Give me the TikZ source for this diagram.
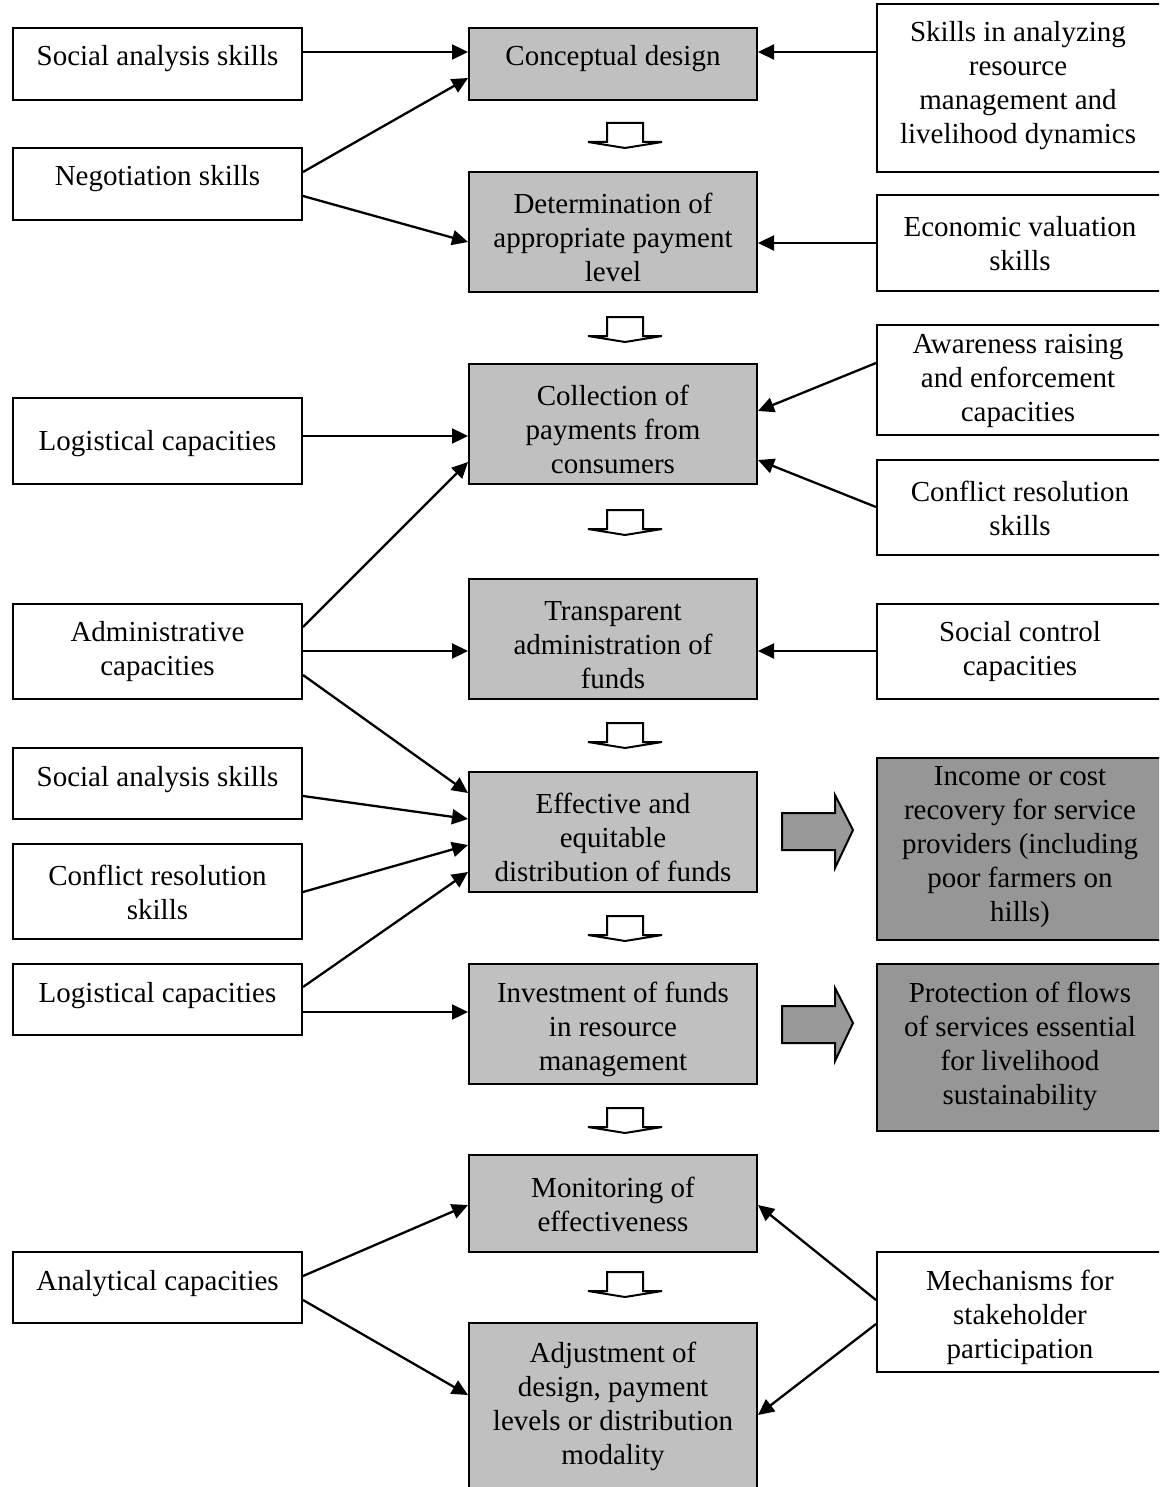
\documentclass[tikz,border=0pt]{standalone}
\usepackage{fontspec}
\setmainfont{Liberation Serif}
\usetikzlibrary{arrows.meta}
\definecolor{midgray}{RGB}{192,192,192}
\definecolor{darkbox}{RGB}{150,150,150}
\definecolor{arrgray}{RGB}{153,153,153}
\begin{document}
\begin{tikzpicture}[x=1pt,y=-1pt,
  box/.style={draw, line width=2pt, inner sep=0pt, anchor=center},
  lbox/.style={box, minimum width=289pt},
  mbox/.style={box, fill=midgray, minimum width=288pt},
  rbox/.style={box, minimum width=285pt},
  dbox/.style={box, fill=darkbox, minimum width=285pt},
  txt/.style={align=center, inner sep=0pt, yshift=-3pt, font=\fontsize{29}{34}\selectfont},
  conn/.style={line width=2.3pt, -{Triangle[length=16pt,width=15pt]}},
  downarr/.style={draw, fill=white, line width=2pt, line join=miter},
  bigarr/.style={draw, fill=arrgray, line width=2pt, line join=miter}]
\useasboundingbox (0,0) rectangle (1159,1487);
\clip (0,0) rectangle (1159,1487);

% ---------- left column ----------
\node[lbox, minimum height=72pt] (L1) at (157.5,64) {};
\node[txt] (L1t) at (157.5,56) {Social analysis skills};
\node[lbox, minimum height=72pt] (L2) at (157.5,184) {};
\node[txt] (L2t) at (157.5,176) {Negotiation skills};
\node[lbox, minimum height=86pt] (L3) at (157.5,441) {};
\node[txt] (L3t) at (157.5,441) {Logistical capacities};
\node[lbox, minimum height=95pt] (L4) at (157.5,651.5) {};
\node[txt] (L4t) at (157.5,649) {Administrative\\capacities};
\node[lbox, minimum height=71pt] (L5) at (157.5,783.5) {};
\node[txt] (L5t) at (157.5,777) {Social analysis skills};
\node[lbox, minimum height=95pt] (L6) at (157.5,891.5) {};
\node[txt] (L6t) at (157.5,889) {Conflict resolution\\skills};
\node[lbox, minimum height=71pt] (L7) at (157.5,999.5) {};
\node[txt] (L7t) at (157.5,993) {Logistical capacities};
\node[lbox, minimum height=71pt] (L8) at (157.5,1287.5) {};
\node[txt] (L8t) at (157.5,1281) {Analytical capacities};

% ---------- middle column ----------
\node[mbox, minimum height=72pt] (M1) at (613,64) {};
\node[txt] (M1t) at (613,56) {Conceptual design};
\node[mbox, minimum height=120pt] (M2) at (613,232) {};
\node[txt] (M2t) at (613,234) {Determination of\\appropriate payment\\level};
\node[mbox, minimum height=120pt] (M3) at (613,424) {};
\node[txt] (M3t) at (613,426) {Collection of\\payments from\\consumers};
\node[mbox, minimum height=120pt] (M4) at (613,639) {};
\node[txt] (M4t) at (613,642) {Transparent\\administration of\\funds};
\node[mbox, minimum height=120pt] (M5) at (613,832) {};
\node[txt] (M5t) at (613,834) {Effective and\\equitable\\distribution of funds};
\node[mbox, minimum height=120pt] (M6) at (613,1024) {};
\node[txt] (M6t) at (613,1026) {Investment of funds\\in resource\\management};
\node[mbox, minimum height=97pt] (M7) at (613,1203.5) {};
\node[txt] (M7t) at (613,1201) {Monitoring of\\effectiveness};
\node[mbox, minimum height=177pt] (M8) at (613,1411.5) {};
\node[txt] (M8t) at (613,1403) {Adjustment of\\design, payment\\levels or distribution\\modality};

% ---------- right column ----------
\node[rbox, minimum height=168pt] (R1) at (1019.5,88) {};
\node[txt] (R1t) at (1018,83) {Skills in analyzing\\resource\\management and\\livelihood dynamics};
\node[rbox, minimum height=96pt] (R2) at (1019.5,243) {};
\node[txt] (R2t) at (1020,241) {Economic valuation\\skills};
\node[rbox, minimum height=110pt] (R3) at (1019.5,380) {};
\node[txt] (R3t) at (1018,378) {Awareness raising\\and enforcement\\capacities};
\node[rbox, minimum height=95pt] (R4) at (1019.5,507.5) {};
\node[txt] (R4t) at (1020,505) {Conflict resolution\\skills};
\node[rbox, minimum height=95pt] (R5) at (1019.5,651.5) {};
\node[txt] (R5t) at (1020,649) {Social control\\capacities};
\node[dbox, minimum height=182pt] (R6) at (1019.5,849) {};
\node[txt] (R6t) at (1020,844) {Income or cost\\recovery for service\\providers (including\\poor farmers on\\hills)};
\node[dbox, minimum height=167pt] (R7) at (1019.5,1047.5) {};
\node[txt] (R7t) at (1020,1043) {Protection of flows\\of services essential\\for livelihood\\sustainability};
\node[rbox, minimum height=120pt] (R8) at (1019.5,1312) {};
\node[txt] (R8t) at (1020,1314) {Mechanisms for\\stakeholder\\participation};

% ---------- connectors ----------
\draw[conn] ([yshift=12pt]L1.east) -- ([yshift=12pt]M1.west);
\draw[conn] ([yshift=12pt]L2.east) -- ([yshift=-14pt]M1.west);
\draw[conn] ([yshift=-12pt]L2.east) -- ([yshift=-10pt]M2.west);
\draw[conn] ([yshift=36pt]R1.west) -- ([yshift=12pt]M1.east);
\draw[conn] (R2.west) -- ([yshift=-11pt]M2.east);
\draw[conn] ([yshift=5pt]L3.east) -- ([yshift=-12pt]M3.west);
\draw[conn] ([yshift=17pt]R3.west) -- ([yshift=13pt]M3.east);
\draw[conn] ([yshift=0.5pt]R4.west) -- ([yshift=-36pt]M3.east);
\draw[conn] ([yshift=24.5pt]L4.east) -- ([yshift=-38pt]M3.west);
\draw[conn] ([yshift=0.5pt]L4.east) -- ([yshift=-12pt]M4.west);
\draw[conn] ([yshift=0.5pt]R5.west) -- ([yshift=-12pt]M4.east);
\draw[conn] ([yshift=-23.5pt]L4.east) -- ([yshift=39pt]M5.west);
\draw[conn] ([yshift=-12.5pt]L5.east) -- ([yshift=13pt]M5.west);
\draw[conn] ([yshift=-0.5pt]L6.east) -- ([yshift=-13pt]M5.west);
\draw[conn] ([yshift=12.5pt]L7.east) -- ([yshift=-40pt]M5.west);
\draw[conn] ([yshift=-12.5pt]L7.east) -- ([yshift=12pt]M6.west);
\draw[conn] ([yshift=11.5pt]L8.east) -- ([yshift=-1.5pt]M7.west);
\draw[conn] ([yshift=-12.5pt]L8.east) -- ([yshift=16.5pt]M8.west);
\draw[conn] ([yshift=12pt]R8.west) -- ([yshift=-1.5pt]M7.east);
\draw[conn] ([yshift=-12pt]R8.west) -- ([yshift=-3.5pt]M8.east);

% ---------- small down arrows ----------
\foreach \t in {123,317,510,723,916,1108,1272}{
  \draw[downarr] (607,\t+19) -- (607,\t) -- (643,\t) -- (643,\t+19) -- (662,\t+19) -- (625,\t+25) -- (588,\t+19) -- cycle;
}

% ---------- big gray arrows ----------
\draw[bigarr] (782,813) -- (835,813) -- (835,795) -- (853,830) -- (835,868) -- (835,850) -- (782,850) -- cycle;
\draw[bigarr] (782,1006) -- (835,1006) -- (835,988) -- (853,1023) -- (835,1061) -- (835,1043) -- (782,1043) -- cycle;
\end{tikzpicture}
\end{document}
